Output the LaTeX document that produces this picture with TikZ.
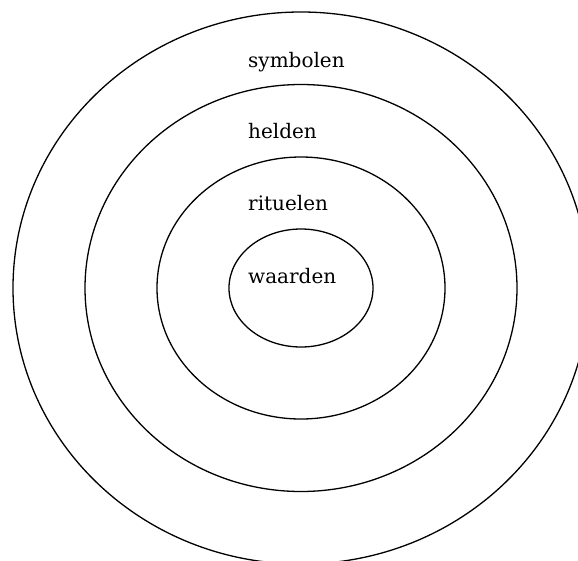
\documentclass[tikz,border=0pt]{standalone}
\usepackage{fontspec}
\setmainfont{DejaVu Serif}
\usetikzlibrary{shapes.geometric}
\tikzset{
  ring/.style={
    draw,
    ellipse,
    inner sep=0pt,
    line width=1.3pt
  },
  word/.style={
    anchor=base west,
    inner sep=0pt,
    font=\fontsize{20}{24}\selectfont
  }
}

\begin{document}
\begin{tikzpicture}[x=1pt,y=-1pt]
  \useasboundingbox (0,0) rectangle (578,560);

  \node[ring, minimum width=576pt, minimum height=552pt] (outer) at (301,288) {};
  \node[ring, minimum width=432pt, minimum height=407pt] (second) at (301,288) {};
  \node[ring, minimum width=288pt, minimum height=262pt] (third) at (301,288) {};
  \node[ring, minimum width=144pt, minimum height=118pt] (core) at (301,288) {};

  \node[word] (symbolen) at (248,67) {symbolen};
  \node[word] (helden) at (248,138) {helden};
  \node[word] (rituelen) at (248,210) {rituelen};
  \node[word] (waarden) at (248,283) {waarden};
\end{tikzpicture}
\end{document}
